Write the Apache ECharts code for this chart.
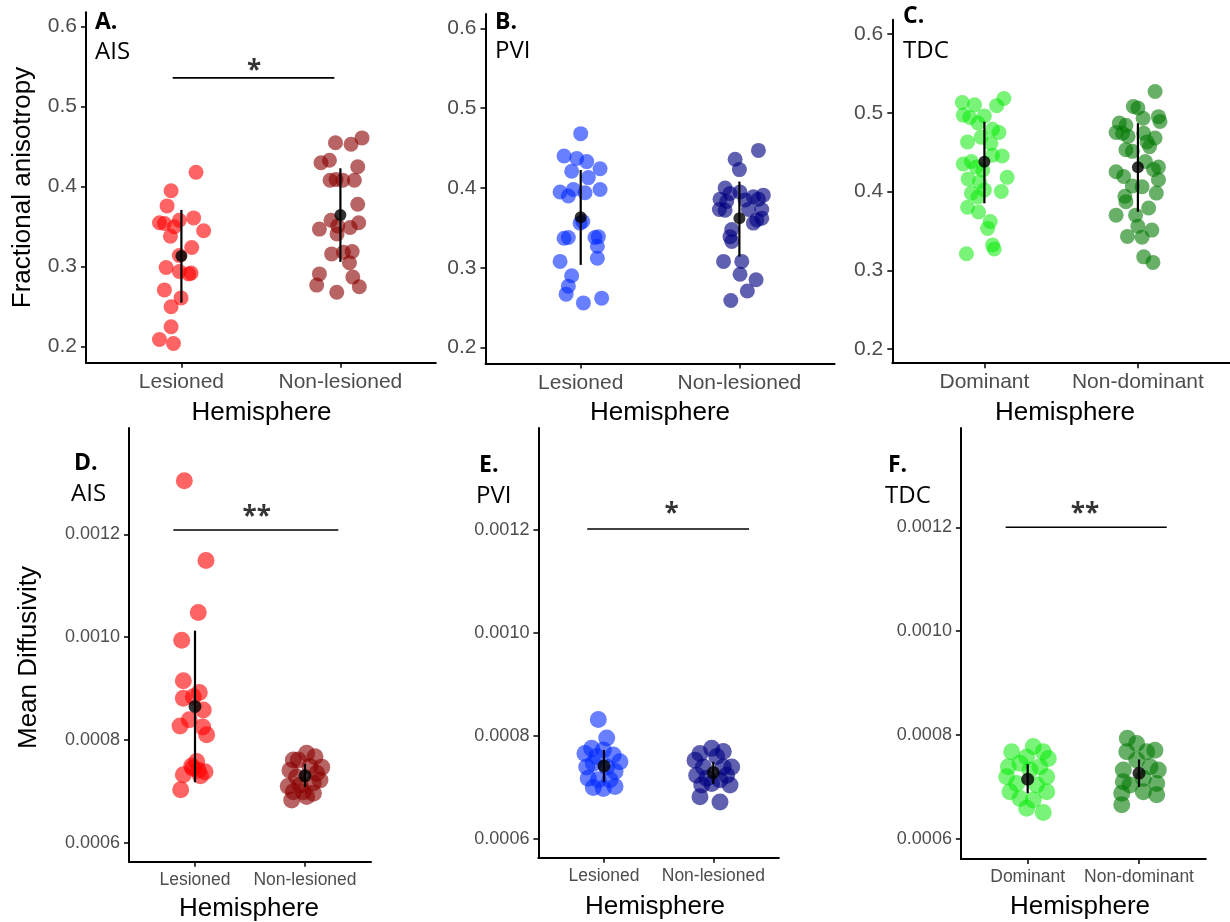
<!DOCTYPE html>
<html>
<head>
<meta charset="utf-8">
<script src="https://cdn.jsdelivr.net/npm/echarts@6/dist/echarts.min.js"></script>
<style>
html,body{margin:0;padding:0;background:#fff;}
#chart{width:1230px;height:922px;}
</style>
</head>
<body>
<div id="chart"></div>
<script>
// ---------- categories ----------
const catsLes = ['Lesioned', 'Non-lesioned'];
const catsDom = ['Dominant', 'Non-dominant'];

// ---------- tick labels ----------
const faTicks = [0.2, 0.3, 0.4, 0.5, 0.6];
const mdTicks = [0.0006, 0.0008, 0.0010, 0.0012];

// ---------- Panel A: AIS, fractional anisotropy ----------
const A_les_y  = [0.418,0.395,0.376,0.355,0.354,0.358,0.361,0.345,0.338,0.324,0.314,0.299,0.294,0.292,0.291,0.271,0.261,0.250,0.225,0.209,0.204,0.350];
const A_les_dx = [0.092,-0.065,-0.090,-0.138,-0.107,-0.013,0.077,0.140,-0.069,0.065,-0.013,-0.096,-0.013,0.061,0.046,-0.107,-0.002,-0.065,-0.065,-0.138,-0.050,-0.044];
const A_non_y  = [0.455,0.453,0.461,0.430,0.433,0.425,0.408,0.409,0.408,0.408,0.378,0.358,0.347,0.351,0.349,0.355,0.341,0.316,0.318,0.319,0.305,0.291,0.277,0.287,0.275,0.268];
const A_non_dx = [-0.031,0.067,0.136,-0.122,-0.069,0.109,-0.065,-0.027,0.015,0.088,0.109,-0.059,-0.132,-0.017,0.061,0.115,-0.021,-0.055,0.019,0.074,0.057,-0.132,-0.149,0.078,0.119,-0.023];
const A_mean = [0.3134, 0.3646];
const A_lo   = [0.255, 0.306];
const A_hi   = [0.371, 0.423];
const A_sig  = [0.945, 1.962, 0.536];      // x from, x to, y
const A_star = [1.457, 0.550];

// ---------- Panel B: PVI, fractional anisotropy ----------
const B_les_y  = [0.468,0.440,0.437,0.433,0.424,0.421,0.413,0.395,0.390,0.398,0.394,0.398,0.356,0.358,0.337,0.338,0.338,0.339,0.327,0.308,0.312,0.290,0.277,0.267,0.256,0.262];
const B_les_dx = [0,-0.105,-0.025,0.038,0.122,-0.057,0.048,-0.130,-0.078,-0.046,0.027,0.122,-0.004,0.013,-0.105,-0.078,0.090,0.111,0.105,-0.130,0.105,-0.057,-0.078,-0.092,0.017,0.132];
const B_non_y  = [0.447,0.436,0.423,0.400,0.393,0.395,0.386,0.383,0.385,0.389,0.391,0.386,0.373,0.373,0.373,0.372,0.362,0.356,0.360,0.348,0.339,0.333,0.308,0.308,0.292,0.285,0.271,0.259];
const B_non_dx = [0.120,-0.027,0,-0.090,-0.059,0.004,-0.122,-0.080,0.036,0.088,0.151,0.120,0.057,0.141,-0.126,-0.090,0.141,0.088,0.110,-0.048,-0.059,-0.048,-0.100,0.015,0.004,0.105,0.050,-0.054];
const B_mean = [0.3633, 0.362];
const B_lo   = [0.3036, 0.314];
const B_hi   = [0.4225, 0.408];

// ---------- Panel C: TDC, fractional anisotropy ----------
const C_dom_y  = [0.513,0.510,0.509,0.518,0.497,0.494,0.496,0.487,0.479,0.475,0.469,0.463,0.461,0.445,0.446,0.435,0.438,0.431,0.427,0.418,0.416,0.412,0.400,0.398,0.402,0.393,0.380,0.374,0.362,0.353,0.332,0.327,0.321];
const C_dom_dx = [-0.144,-0.064,0.080,0.127,-0.138,-0.095,0,-0.042,0.053,0.095,-0.021,-0.110,0.042,0.116,0.053,-0.138,-0.085,-0.053,-0.011,0.148,-0.106,-0.032,0.110,-0.085,0,-0.042,-0.110,-0.038,0.038,0.021,0.053,0.064,-0.117];
const C_non_y  = [0.527,0.508,0.506,0.493,0.495,0.489,0.487,0.484,0.475,0.474,0.470,0.474,0.468,0.463,0.457,0.453,0.451,0.425,0.419,0.438,0.428,0.431,0.415,0.407,0.406,0.398,0.394,0.387,0.370,0.370,0.379,0.356,0.351,0.343,0.342,0.317,0.310];
const C_non_dx = [0.112,-0.030,0,0.034,0.134,0.144,-0.121,-0.078,-0.142,-0.100,-0.064,0.038,0.112,0.059,0.076,-0.078,-0.036,-0.142,-0.093,0.049,0.102,0.134,0.134,-0.036,0.027,0.120,-0.085,-0.078,-0.142,-0.015,0.070,0,0.091,-0.068,0.027,0.038,0.098];
const C_mean = [0.4378, 0.4307];
const C_lo   = [0.385, 0.3743];
const C_hi   = [0.4886, 0.4866];

// ---------- Panel D: AIS, mean diffusivity ----------
const D_les_y  = [0.001304,0.001149,0.001048,0.000994,0.000915,0.000892,0.000881,0.000884,0.000858,0.000839,0.000827,0.000825,0.000810,0.000758,0.000749,0.000738,0.000732,0.000741,0.000703,0.000745,0.000730];
const D_les_dx = [-0.097,0.100,0.030,-0.121,-0.106,0.039,-0.106,-0.015,0.075,-0.052,-0.136,0.070,0.106,0.015,-0.030,0.091,-0.106,0.030,-0.130,-0.020,0.050];
const D_non_y  = [0.000761,0.000774,0.000767,0.000747,0.000741,0.000735,0.000710,0.000712,0.000716,0.000683,0.000690,0.000761,0.000748,0.000728,0.000722,0.000699,0.000699,0.000696];
const D_non_dx = [-0.106,0.015,0.091,0.152,-0.136,0.106,-0.152,-0.045,0.075,-0.121,0.015,-0.061,0.045,-0.076,0.136,-0.015,-0.106,0.076];
const D_mean = [0.000865, 0.000730];
const D_lo   = [0.0007175, 0.000708];
const D_hi   = [0.0010125, 0.000753];
const D_sig  = [0.803, 2.303, 0.0012084];
const D_star = [1.561, 0.001242];

// ---------- Panel E: PVI, mean diffusivity ----------
const E_les_y  = [0.000832,0.000796,0.000776,0.000766,0.000773,0.000763,0.000750,0.000747,0.000731,0.000718,0.000715,0.000715,0.000702,0.000700,0.000698,0.000740,0.000740,0.000760];
const E_les_dx = [-0.052,0.025,-0.113,-0.174,-0.006,0.085,0.146,-0.098,0.101,-0.144,-0.052,0.055,0.101,-0.098,-0.006,-0.158,0.025,-0.067];
const E_non_y  = [0.000776,0.000770,0.000766,0.000753,0.000760,0.000740,0.000724,0.000724,0.000718,0.000715,0.000705,0.000705,0.000708,0.000682,0.000672,0.000740,0.000740];
const E_non_dx = [-0.015,0.091,-0.122,-0.167,0.031,0.168,0.122,-0.152,-0.060,0.061,0.153,-0.106,-0.015,-0.122,0.061,-0.091,0.091];
const E_mean = [0.000742, 0.000729];
const E_lo   = [0.000711, 0.000707];
const E_hi   = [0.000773, 0.000750];
const E_sig  = [0.847, 2.327, 0.001202];
const E_star = [1.619, 0.0012388];

// ---------- Panel F: TDC, mean diffusivity ----------
const F_dom_y  = [0.000768,0.000778,0.000768,0.000755,0.000739,0.000746,0.000739,0.000720,0.000720,0.000707,0.000704,0.000691,0.000691,0.000678,0.000675,0.000659,0.000651,0.000758,0.000733];
const F_dom_dx = [-0.144,0.050,0.140,0.185,-0.174,-0.069,0.110,-0.189,0.171,-0.099,0.081,-0.159,0.171,-0.069,0.050,-0.009,0.140,-0.009,0.021];
const F_non_y  = [0.000794,0.000784,0.000771,0.000768,0.000768,0.000733,0.000733,0.000739,0.000710,0.000707,0.000704,0.000688,0.000685,0.000691,0.000666,0.000752,0.000717];
const F_non_dx = [-0.105,-0.021,0.143,0.069,-0.110,0.173,-0.141,0.099,-0.141,0.159,-0.081,-0.155,0.159,0.039,-0.155,-0.021,0.039];
const F_mean = [0.000715, 0.0007265];
const F_lo   = [0.000688, 0.000700];
const F_hi   = [0.000744, 0.000753];
const F_sig  = [0.802, 2.249, 0.0012];
const F_star = [1.515, 0.0012333];

// ---------- build ----------
const grids = [], xAxes = [], yAxes = [], series = [];
const TICK_COLOR = '#4d4d4d';

function addPanel(p) {
  const gi = grids.length;
  grids.push({ left: p.left, top: p.top, width: p.width, height: p.height, containLabel: false });
  xAxes.push({
    gridIndex: gi, type: 'value', min: 0.4, max: 2.6,
    axisLine: { show: true, onZero: false, lineStyle: { color: '#000', width: 2 } },
    axisTick: { show: true, customValues: [1, 2], length: 5, lineStyle: { color: '#000', width: 1.5 } },
    axisLabel: { customValues: [1, 2], formatter: v => p.cats[Math.round(v) - 1],
      color: TICK_COLOR, fontSize: p.xFont, fontFamily: 'Liberation Sans', margin: p.xMargin },
    splitLine: { show: false }
  });
  yAxes.push({
    gridIndex: gi, type: 'value', min: p.ymin, max: p.ymax,
    axisLine: { show: true, onZero: false, lineStyle: { color: '#000', width: 2 } },
    axisTick: { show: true, customValues: p.ticks, length: 5, lineStyle: { color: '#000', width: 1.5 } },
    axisLabel: { customValues: p.ticks, formatter: v => v.toFixed(p.dec),
      color: TICK_COLOR, fontSize: p.yFont, fontFamily: 'Liberation Sans', margin: p.yMargin },
    splitLine: { show: false }
  });
  // jittered points
  p.groups.forEach((g, k) => {
    series.push({
      type: 'scatter', xAxisIndex: gi, yAxisIndex: gi, z: 2,
      symbol: 'circle', symbolSize: p.ptSize, silent: true,
      itemStyle: { color: g.color, borderWidth: 0 },
      data: g.y.map((v, i) => [k + 1 + g.dx[i], v])
    });
  });
  // sd error bars
  series.push({
    type: 'custom', xAxisIndex: gi, yAxisIndex: gi, z: 3, silent: true,
    data: p.mean.map((m, i) => [i + 1, p.lo[i], p.hi[i]]),
    renderItem: (params, api) => {
      const a = api.coord([api.value(0), api.value(1)]);
      const b = api.coord([api.value(0), api.value(2)]);
      return { type: 'line', shape: { x1: a[0], y1: a[1], x2: b[0], y2: b[1] },
        style: { stroke: '#000', lineWidth: 2.2 } };
    }
  });
  // means
  series.push({
    type: 'scatter', xAxisIndex: gi, yAxisIndex: gi, z: 4, silent: true,
    symbol: 'circle', symbolSize: p.meanSize, itemStyle: { color: '#000' },
    data: p.mean.map((m, i) => [i + 1, m])
  });
  // significance bracket
  if (p.sig) {
    series.push({
      type: 'line', xAxisIndex: gi, yAxisIndex: gi, z: 3, silent: true,
      symbol: 'none', lineStyle: { color: '#000', width: 1.6 },
      data: [[p.sig[0], p.sig[2]], [p.sig[1], p.sig[2]]]
    });
    series.push({
      type: 'scatter', xAxisIndex: gi, yAxisIndex: gi, z: 3, silent: true,
      symbolSize: 0, data: [p.star],
      label: { show: true, position: 'inside', formatter: () => p.starText, offset: [0, 5],
        color: '#000', fontSize: 26, fontWeight: 'bold', fontFamily: 'Open Sans' }
    });
  }
}

const topCommon = { ticks: faTicks, dec: 1, ymin: 0.18, ymax: 0.618, xFont: 21, yFont: 21, xMargin: 9, yMargin: 9, ptSize: 15, meanSize: 12 };
const botCommon = { ticks: mdTicks, dec: 4, xFont: 17.5, yFont: 18, xMargin: 9, yMargin: 9, ptSize: 17, meanSize: 13 };

const RED = 'rgba(255,0,0,0.76)', DRED = 'rgba(139,0,0,0.76)';
const BLUE = 'rgba(0,40,255,0.74)', NAVY = 'rgba(0,0,128,0.78)';
const LGREEN = 'rgba(0,235,0,0.66)', DGREEN = 'rgba(0,120,0,0.74)';

addPanel(Object.assign({}, topCommon, {
  left: 86, top: 12.3, width: 349.8, height: 350.4, cats: catsLes,
  groups: [{ y: A_les_y, dx: A_les_dx, color: RED },
           { y: A_non_y, dx: A_non_dx, color: DRED }],
  mean: A_mean, lo: A_lo, hi: A_hi, sig: A_sig, star: A_star, starText: '*'
}));
addPanel(Object.assign({}, topCommon, {
  left: 485.5, top: 13.9, width: 349.1, height: 349.7, cats: catsLes,
  groups: [{ y: B_les_y, dx: B_les_dx, color: BLUE },
           { y: B_non_y, dx: B_non_dx, color: NAVY }],
  mean: B_mean, lo: B_lo, hi: B_hi
}));
addPanel(Object.assign({}, topCommon, {
  ymin: 0.182, left: 892.3, top: 19.8, width: 346.1, height: 343.4, cats: catsDom,
  groups: [{ y: C_dom_y, dx: C_dom_dx, color: LGREEN },
           { y: C_non_y, dx: C_non_dx, color: DGREEN }],
  mean: C_mean, lo: C_lo, hi: C_hi
}));
addPanel(Object.assign({}, botCommon, {
  ymin: 0.000563, ymax: 0.0014068, left: 129, top: 428, width: 242, height: 433.7, cats: catsLes,
  groups: [{ y: D_les_y, dx: D_les_dx, color: RED },
           { y: D_non_y, dx: D_non_dx, color: DRED }],
  mean: D_mean, lo: D_lo, hi: D_hi, sig: D_sig, star: D_star, starText: '**'
}));
addPanel(Object.assign({}, botCommon, {
  ymin: 0.0005637, ymax: 0.0013981, left: 538.4, top: 428, width: 240.5, height: 429.7, cats: catsLes,
  groups: [{ y: E_les_y, dx: E_les_dx, color: BLUE },
           { y: E_non_y, dx: E_non_dx, color: NAVY }],
  mean: E_mean, lo: E_lo, hi: E_hi, sig: E_sig, star: E_star, starText: '*'
}));
addPanel(Object.assign({}, botCommon, {
  ymin: 0.0005615, ymax: 0.0013911, left: 960.9, top: 428, width: 244.9, height: 431, cats: catsDom,
  groups: [{ y: F_dom_y, dx: F_dom_dx, color: LGREEN },
           { y: F_non_y, dx: F_non_dx, color: DGREEN }],
  mean: F_mean, lo: F_lo, hi: F_hi, sig: F_sig, star: F_star, starText: '**'
}));

// ---------- text ----------
function txt(x, y, s, font, opts) {
  return Object.assign({ type: 'text', x: x, y: y, silent: true,
    style: { text: s, font: font, fill: '#000', align: 'left', verticalAlign: 'middle' } }, opts || {});
}
const BOLD = 'bold 23px "Open Sans"';
const REG = '24px "Open Sans"';
const TITLE = '26px "Liberation Sans"';
const graphics = [
  txt(95, 22.5, 'A.', BOLD), txt(95, 52, 'AIS', REG),
  txt(495, 22.5, 'B.', BOLD), txt(495, 51.5, 'PVI', REG),
  txt(903, 16, 'C.', BOLD), txt(903, 51, 'TDC', REG),
  txt(74, 463.5, 'D.', BOLD), txt(71, 494, 'AIS', REG),
  txt(479, 465, 'E.', BOLD), txt(476, 496.5, 'PVI', REG),
  txt(888, 465, 'F.', BOLD), txt(885, 496, 'TDC', REG)
];
function centered(x, y, s, rot) {
  const g = txt(x, y, s, TITLE);
  g.style.align = 'center';
  if (rot) g.rotation = Math.PI / 2;
  return g;
}
graphics.push(centered(23, 187.5, 'Fractional anisotropy', true));
graphics.push(centered(29, 657.5, 'Mean Diffusivity', true));
graphics.push(centered(261.5, 413, 'Hemisphere'));
graphics.push(centered(660, 413, 'Hemisphere'));
graphics.push(centered(1065, 413, 'Hemisphere'));
graphics.push(centered(249, 909, 'Hemisphere'));
graphics.push(centered(655, 907, 'Hemisphere'));
graphics.push(centered(1080, 907, 'Hemisphere'));

const chart = echarts.init(document.getElementById('chart'), null, { renderer: 'canvas' });
chart.setOption({
  backgroundColor: '#ffffff',
  animation: false,
  grid: grids, xAxis: xAxes, yAxis: yAxes, series: series,
  graphic: graphics
});
</script>
</body>
</html>
